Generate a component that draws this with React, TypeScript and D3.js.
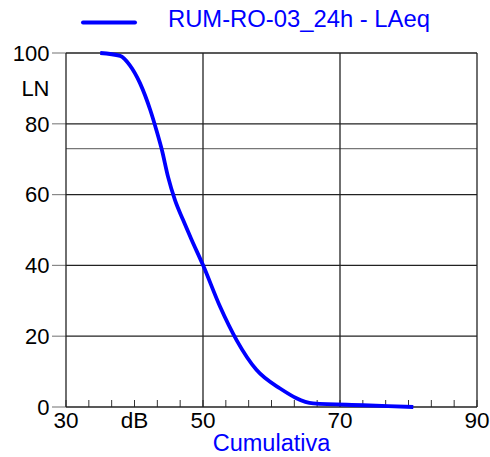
import * as d3 from "d3";
import React, { useRef, useEffect } from "react";

// cumulative distribution
const dbValues = [35, 37.9, 39.3, 40.8, 42.3, 43.2, 44.0, 44.9, 45.9, 47.1, 48.3, 50.0, 52.5, 54.9, 57.8, 61.2, 66.1, 73.4, 80.7];
const lnValues = [100, 99.2, 96.6, 91.5, 83.9, 78.2, 72.6, 65.0, 58.5, 52.8, 47.4, 40.1, 28.3, 18.9, 10.5, 5.3, 1.0, 0.5, 0];

const xTicks = [30, 50, 70, 90];
const yTicks = [0, 20, 40, 60, 80, 100];
const refLine = 73;
const seriesName = "RUM-RO-03_24h - LAeq";
const xTitle = "Cumulativa";

const width = 490;
const height = 457;
const margin = { top: 53, right: 13, bottom: 50, left: 66 };
const blue = "#0000ff";
const font = "'Liberation Sans', Arial, sans-serif";

const App = () => {
  const ref = useRef<SVGSVGElement>(null);

  useEffect(() => {
    const svg = d3.select(ref.current);
    svg.selectAll("*").remove();

    const x = d3.scaleLinear().domain([30, 90]).range([margin.left, width - margin.right]);
    const y = d3.scaleLinear().domain([0, 100]).range([height - margin.bottom, margin.top]);
    const [x0, x1] = x.range();
    const [y0, y1] = y.range();

    const g = svg.append("g");

    // minor ticks along the bottom
    const minor = d3.range(0, 19).map((i) => 30 + (i * 20) / 6);
    g.selectAll("line.minor")
      .data(minor)
      .join("line")
      .attr("x1", (d) => x(d))
      .attr("x2", (d) => x(d))
      .attr("y1", y0)
      .attr("y2", y0 - 7)
      .attr("stroke", "#333")
      .attr("stroke-width", 1);

    // y tick stubs
    g.selectAll("line.ytick")
      .data(yTicks)
      .join("line")
      .attr("x1", x0 - 14)
      .attr("x2", x0)
      .attr("y1", (d) => y(d))
      .attr("y2", (d) => y(d))
      .attr("stroke", "#888")
      .attr("stroke-width", 1.2);

    // reference line
    g.append("line")
      .attr("x1", x0)
      .attr("x2", x1)
      .attr("y1", y(refLine))
      .attr("y2", y(refLine))
      .attr("stroke", "#777")
      .attr("stroke-width", 1.2);

    // grid
    g.selectAll("line.hgrid")
      .data(yTicks)
      .join("line")
      .attr("x1", x0)
      .attr("x2", x1)
      .attr("y1", (d) => y(d))
      .attr("y2", (d) => y(d))
      .attr("stroke", "#222")
      .attr("stroke-width", 1.3);

    g.selectAll("line.vgrid")
      .data(xTicks)
      .join("line")
      .attr("x1", (d) => x(d))
      .attr("x2", (d) => x(d))
      .attr("y1", y0)
      .attr("y2", y1)
      .attr("stroke", "#222")
      .attr("stroke-width", 1.3);

    // curve
    const line = d3
      .line<number>()
      .x((d) => x(d))
      .y((d, i) => y(lnValues[i]))
      .curve(d3.curveMonotoneX);

    g.append("path")
      .attr("d", line(dbValues))
      .attr("fill", "none")
      .attr("stroke", blue)
      .attr("stroke-width", 3.8)
      .attr("stroke-linejoin", "round");

    // y labels
    g.selectAll("text.ylab")
      .data(yTicks)
      .join("text")
      .attr("x", x0 - 16.5)
      .attr("y", (d) => y(d))
      .attr("dy", "0.35em")
      .attr("text-anchor", "end")
      .attr("font-family", font)
      .attr("font-size", 22)
      .text((d) => d);

    g.append("text")
      .attr("x", x0 - 16.5)
      .attr("y", y(90))
      .attr("dy", "0.35em")
      .attr("text-anchor", "end")
      .attr("font-family", font)
      .attr("font-size", 22)
      .text("LN");

    // x labels
    g.selectAll("text.xlab")
      .data(xTicks)
      .join("text")
      .attr("x", (d) => x(d))
      .attr("y", y0 + 21)
      .attr("text-anchor", "middle")
      .attr("font-family", font)
      .attr("font-size", 22.5)
      .text((d) => d);

    g.append("text")
      .attr("x", x(40))
      .attr("y", y0 + 21)
      .attr("text-anchor", "middle")
      .attr("font-family", font)
      .attr("font-size", 22.5)
      .text("dB");

    g.append("text")
      .attr("x", (x0 + x1) / 2)
      .attr("y", y0 + 44)
      .attr("text-anchor", "middle")
      .attr("font-family", font)
      .attr("font-size", 23.5)
      .attr("fill", blue)
      .text(xTitle);

    // legend
    g.append("line")
      .attr("x1", 83)
      .attr("x2", 135)
      .attr("y1", 22.5)
      .attr("y2", 22.5)
      .attr("stroke", blue)
      .attr("stroke-width", 4)
      .attr("stroke-linecap", "round");

    g.append("text")
      .attr("x", 168)
      .attr("y", 27)
      .attr("font-family", font)
      .attr("font-size", 23.8)
      .attr("fill", blue)
      .text(seriesName);
  }, []);

  return (
    <svg
      ref={ref}
      width={width}
      height={height}
      style={{ position: "absolute", left: 0, top: 0, background: "#fff" }}
    />
  );
};

export default App;
